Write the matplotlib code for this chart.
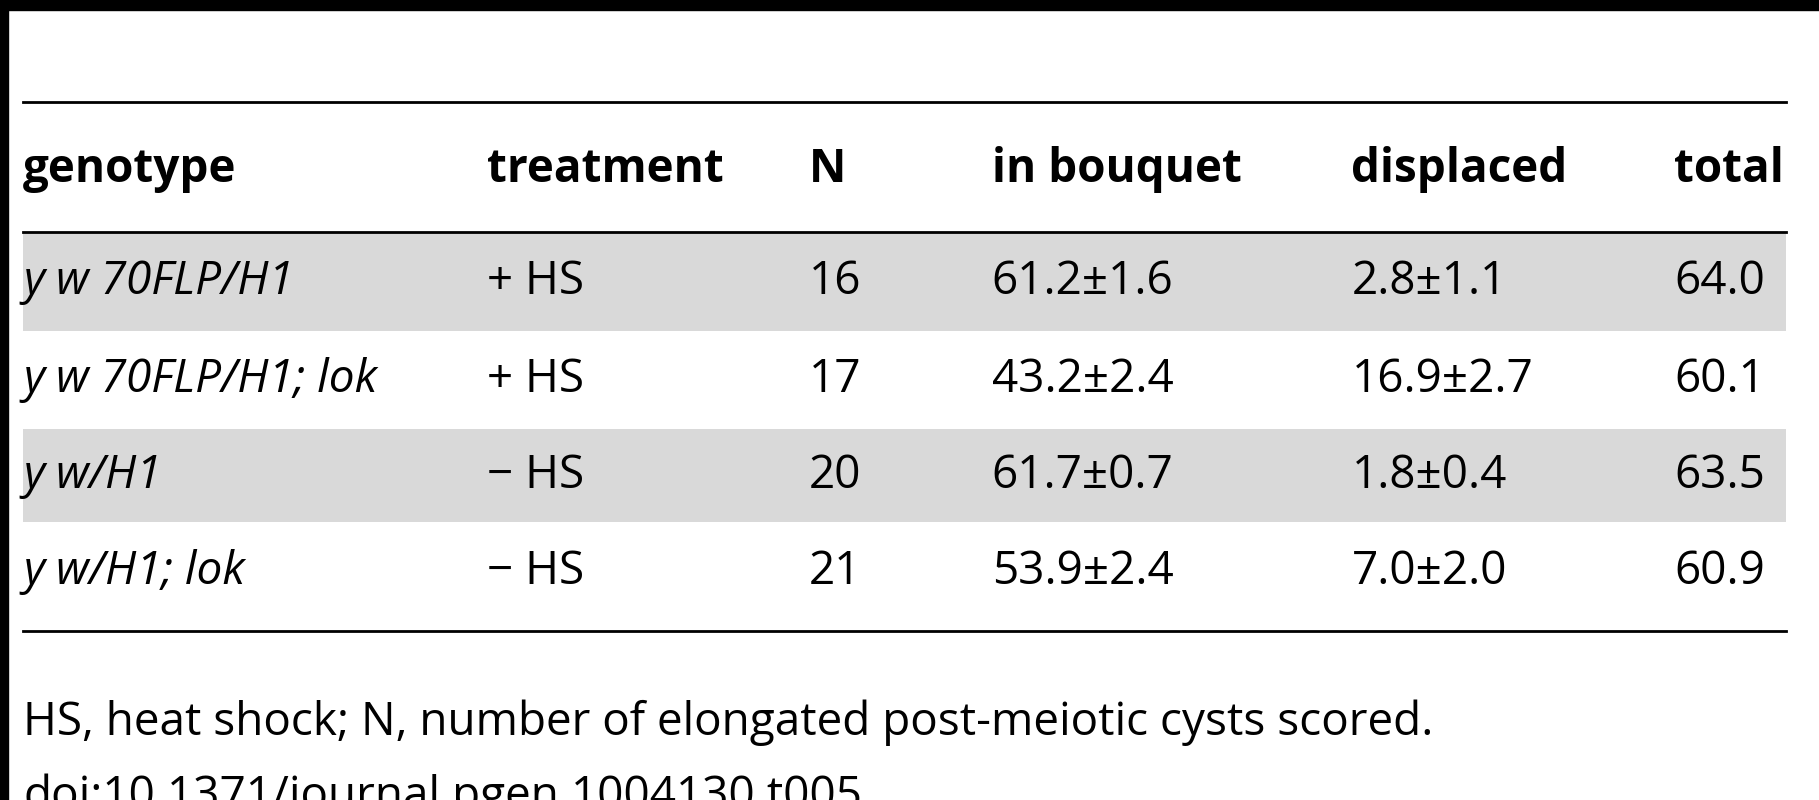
import matplotlib
matplotlib.use('Agg')
import matplotlib.pyplot as plt
from matplotlib.patches import Rectangle

plt.rcParams['font.family'] = ['Open Sans', 'DejaVu Sans']

headers = ['genotype', 'treatment', 'N', 'in bouquet', 'displaced', 'total']
genotypes = ['y w 70FLP/H1', 'y w 70FLP/H1; lok', 'y w/H1', 'y w/H1; lok']
treatments = ['+ HS', '+ HS', '\u2212 HS', '\u2212 HS']
n_values = ['16', '17', '20', '21']
in_bouquet = ['61.2\u00b11.6', '43.2\u00b12.4', '61.7\u00b10.7', '53.9\u00b12.4']
displaced = ['2.8\u00b11.1', '16.9\u00b12.7', '1.8\u00b10.4', '7.0\u00b12.0']
totals = ['64.0', '60.1', '63.5', '60.9']
footnotes = ['HS, heat shock; N, number of elongated post-meiotic cysts scored.',
             'doi:10.1371/journal.pgen.1004130.t005']

W, H = 1819, 800
fig = plt.figure(figsize=(W / 100, H / 100), dpi=100)
ax = fig.add_axes([0, 0, 1, 1])
ax.set_xlim(0, W)
ax.set_ylim(H, 0)
ax.axis('off')

s = 1.16
col_x = [x * s for x in [20, 420, 697, 855, 1165, 1443]]
row_bounds = [(200 * s, 286 * s), (286 * s, 369 * s), (369 * s, 451 * s), (451 * s, 544 * s)]
right = 1540 * s
left = 20 * s
fs = 33

# frame lines
ax.add_patch(Rectangle((0, 0), 8, 800, color='black'))
ax.add_patch(Rectangle((0, 0), W, 10, color='black'))
ax.plot([left, right], [88 * s, 88 * s], color='black', lw=2)
ax.plot([left, right], [200 * s, 200 * s], color='black', lw=2)
ax.plot([left, right], [544 * s, 544 * s], color='black', lw=2)

for x, h in zip(col_x, headers):
    ax.text(x, 146 * s, h, fontsize=fs, fontweight='bold', va='center', ha='left')

for i, (y0, y1) in enumerate(row_bounds):
    if i % 2 == 0:
        ax.add_patch(Rectangle((left, y0 + 1), right - left, y1 - y0 - 2, color='#d9d9d9', lw=0))
    yc = (y0 + y1) / 2 if i < 3 else (y0 + 536 * s) / 2
    vals = [genotypes[i], treatments[i], n_values[i], in_bouquet[i], displaced[i], totals[i]]
    for j, (x, v) in enumerate(zip(col_x, vals)):
        ax.text(x, yc, v, fontsize=fs, va='center', ha='left',
                style='italic' if j == 0 else 'normal')

ax.text(left, 623 * s, footnotes[0], fontsize=fs, va='center', ha='left')
ax.text(left, 687 * s, footnotes[1], fontsize=fs, va='center', ha='left')

fig.savefig('out.png', dpi=100)
